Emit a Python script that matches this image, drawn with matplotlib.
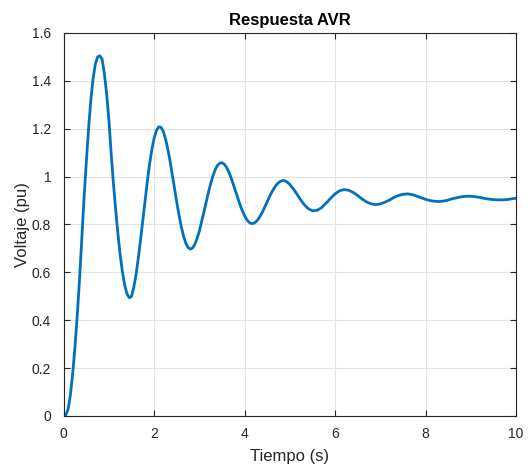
import numpy as np
import matplotlib.pyplot as plt
from matplotlib.ticker import FormatStrFormatter

# AVR step response, time (s) and terminal voltage (pu)
t_fast = [0.00, 0.05, 0.10, 0.15, 0.20, 0.25, 0.30, 0.35, 0.40, 0.45,
          0.50, 0.55, 0.60, 0.65, 0.70, 0.75, 0.80, 0.85, 0.90, 0.95,
          1.00, 1.05, 1.10, 1.15, 1.20, 1.25, 1.30, 1.35, 1.40, 1.45,
          1.50, 1.55, 1.60, 1.65, 1.70, 1.75, 1.80, 1.85, 1.90, 1.95,
          2.00, 2.05, 2.10, 2.15, 2.20, 2.25, 2.30, 2.35, 2.40, 2.45,
          2.50, 2.55, 2.60, 2.65, 2.70, 2.75, 2.80, 2.85, 2.90, 2.95,
          3.00, 3.05, 3.10, 3.15, 3.20, 3.25, 3.30, 3.35, 3.40, 3.45,
          3.50, 3.55, 3.60, 3.65, 3.70, 3.75, 3.80, 3.85, 3.90, 3.95,
          4.00, 4.05, 4.10, 4.15, 4.20, 4.25, 4.30, 4.35, 4.40, 4.45,
          4.50, 4.55, 4.60, 4.65, 4.70, 4.75, 4.80, 4.85, 4.90, 4.95, 5.00]
v_fast = [0.000, 0.005, 0.030, 0.090, 0.180, 0.290, 0.420, 0.570, 0.740, 0.910,
          1.060, 1.200, 1.320, 1.410, 1.470, 1.500, 1.505, 1.490, 1.430, 1.345,
          1.235, 1.095, 0.970, 0.860, 0.760, 0.670, 0.600, 0.545, 0.510, 0.494,
          0.500, 0.538, 0.591, 0.660, 0.737, 0.820, 0.903, 0.982, 1.054, 1.114,
          1.161, 1.192, 1.208, 1.206, 1.190, 1.159, 1.117, 1.067, 1.010, 0.951,
          0.893, 0.839, 0.791, 0.751, 0.722, 0.704, 0.697, 0.702, 0.717, 0.742,
          0.773, 0.812, 0.852, 0.894, 0.934, 0.971, 1.003, 1.029, 1.047, 1.056,
          1.058, 1.052, 1.039, 1.020, 0.996, 0.968, 0.939, 0.910, 0.882, 0.857,
          0.836, 0.820, 0.809, 0.804, 0.805, 0.811, 0.822, 0.837, 0.854, 0.875,
          0.895, 0.916, 0.935, 0.951, 0.965, 0.975, 0.981, 0.984, 0.982, 0.976, 0.967]

t_slow = [5.1, 5.2, 5.3, 5.4, 5.5, 5.6, 5.7, 5.8, 5.9, 6.0,
          6.1, 6.2, 6.3, 6.4, 6.5, 6.6, 6.7, 6.8, 6.9, 7.0,
          7.1, 7.2, 7.3, 7.4, 7.5, 7.6, 7.7, 7.8, 7.9, 8.0,
          8.1, 8.2, 8.3, 8.4, 8.5, 8.6, 8.7, 8.8, 8.9, 9.0,
          9.1, 9.2, 9.3, 9.4, 9.5, 9.6, 9.7, 9.8, 9.9, 10.0]
v_slow = [0.943, 0.914, 0.887, 0.867, 0.857, 0.859, 0.870, 0.889, 0.909, 0.928,
          0.941, 0.946, 0.943, 0.934, 0.921, 0.906, 0.894, 0.886, 0.883, 0.886,
          0.893, 0.902, 0.913, 0.921, 0.926, 0.928, 0.925, 0.919, 0.912, 0.905,
          0.900, 0.897, 0.896, 0.898, 0.902, 0.908, 0.912, 0.916, 0.918, 0.918,
          0.916, 0.913, 0.909, 0.906, 0.904, 0.903, 0.903, 0.904, 0.907, 0.910]

t = np.array(t_fast + t_slow)
v = np.array(v_fast + v_slow)

plt.rcParams['font.family'] = ['Liberation Sans', 'DejaVu Sans']
dark = '#262626'

fig = plt.figure(figsize=(5.29, 4.66), dpi=100)
ax = fig.add_axes([0.1204, 0.1073, 0.8550, 0.8219])

ax.plot(t, v, color='#0072BD', linewidth=2.0, solid_joinstyle='round')

ax.set_xlim(0, 10)
ax.set_ylim(0, 1.6)
ax.set_xticks(np.arange(0, 11, 2))
ax.set_yticks(np.arange(0, 1.61, 0.2))
ax.yaxis.set_major_formatter(FormatStrFormatter('%g'))

ax.grid(True, color='#e3e3e3', linewidth=0.8)
ax.set_axisbelow(True)
ax.tick_params(direction='in', length=4, width=0.8, colors=dark,
               labelsize=10, top=True, right=True,
               labeltop=False, labelright=False)
ax.tick_params(axis='x', pad=8)
ax.tick_params(axis='y', pad=9)
for s in ax.spines.values():
    s.set_color(dark)
    s.set_linewidth(0.8)

ax.set_title('Respuesta AVR', fontsize=12, fontweight='bold', color='black', pad=6)
ax.set_xlabel('Tiempo (s)', fontsize=12, color=dark, labelpad=6)
ax.set_ylabel('Voltaje (pu)', fontsize=12, color=dark, labelpad=1)

fig.savefig('out.png', dpi=100)
